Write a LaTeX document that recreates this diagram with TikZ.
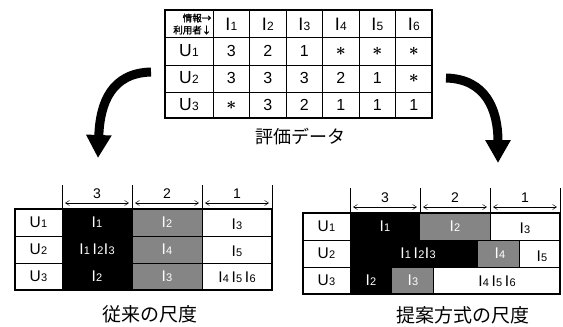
\documentclass[tikz,border=0pt]{standalone}
\usepackage{fontspec}
\setmainfont{Liberation Sans}
\newfontfamily\jp{Noto Sans CJK JP}
\newfontfamily\jpb[FakeBold=1.5]{Noto Sans CJK JP}
\usetikzlibrary{arrows.meta}
\newcommand\Lb[3]{#1\kern0.3pt{\fontsize{#3}{#3}\selectfont #2}}
\newcommand\Ib[1]{\Lb{I}{#1}{11}}
\newcommand\st{{\fontsize{18}{18}\selectfont\boldmath$\ast$}}
\begin{document}
\begin{tikzpicture}[x=1pt,y=-1pt,
  tline/.style={line width=0.8pt},
  tout/.style={line width=1.1pt},
  txt/.style={inner sep=0pt,anchor=center},
  bignum/.style={txt,font=\fontsize{16}{16}\selectfont},
  ulab/.style={txt,font=\fontsize{15.5}{15.5}\selectfont},
  ilab/.style={txt,font=\fontsize{15.5}{15.5}\selectfont},
  wlab/.style={ilab,text=white},
  collab/.style={txt,font=\fontsize{14}{14}\selectfont},
  darr/.style={line width=0.5pt,{Straight Barb[length=4pt,width=5pt]}-{Straight Barb[length=4pt,width=5pt]}},
  shade/.style={fill=black!48},
  bigarrow/.style={line width=9pt,-{Triangle[width=24pt,length=23pt]}},
  captxt/.style={txt,font=\jp\fontsize{19}{19}\selectfont}
]
\useasboundingbox (0,0) rectangle (563,327);

% ---------- top table ----------
\foreach \x in {213,249.5,286,322.5,359,395.5} \draw[tline] (\x,10) -- (\x,118);
\foreach \y in {37,65,92} \draw[tline] (165,\y) -- (432,\y);
\draw[tout] (165,10) rectangle (432,118);
\node[txt,anchor=east,font=\jpb\fontsize{9.5}{9.5}\selectfont] (hd1) at (211.5,18) {情報→};
\node[txt,anchor=east,font=\jpb\fontsize{9.5}{9.5}\selectfont] (hd2) at (211.5,30) {利用者↓};
\foreach \c in {1,...,6}
  \node[txt,font=\fontsize{18}{18}\selectfont] (ti\c) at (213+36.5*\c-18.25,24) {\Lb{I}{\c}{12}};
\foreach \r in {1,2,3}
  \node[txt,font=\fontsize{17.5}{17.5}\selectfont] (tu\r) at (189,51+27*\r-27) {\Lb{U}{\r}{12}};
\foreach \r/\c/\v in {1/1/3,1/2/2,1/3/1,1/4/\st,1/5/\st,1/6/\st,
                      2/1/3,2/2/3,2/3/3,2/4/2,2/5/1,2/6/\st,
                      3/1/\st,3/2/3,3/3/2,3/4/1,3/5/1,3/6/1}
  \node[bignum] (t\r\c) at (213+36.5*\c-18.25,51+27*\r-27) {\v};
\node[captxt,font=\jp\fontsize{18}{18}\selectfont] (capT) at (300,137) {評価データ};

% ---------- arrows ----------
\coordinate (la1) at (151,72);
\coordinate (la2) at (98,158);
\coordinate (ra1) at (446,78);
\coordinate (ra2) at (498,163);
\draw[bigarrow] (la1) .. controls (112,73) and (100,102) .. (la2);
\draw[bigarrow] (ra1) .. controls (486,79) and (498,110) .. (ra2);

% ---------- bottom left: conventional ----------
\fill (62,209) rectangle (132,290);
\fill[shade] (132,209) rectangle (202,290);
\foreach \x in {62,132,202,272} \draw[tline] (\x,185) -- (\x,209);
\node[collab] (l3) at (97,194) {3};
\node[collab] (l2) at (167,194) {2};
\node[collab] (l1) at (237,194) {1};
\draw[darr] (65,203) -- (129,203);
\draw[darr] (135,203) -- (199,203);
\draw[darr] (205,203) -- (269,203);
\foreach \y in {209,236,263} {
  \draw[tline] (15,\y) rectangle (62,\y+27);
  \draw[tline] (202,\y) rectangle (272,\y+27);
  \draw[tline] (132,\y) rectangle (202,\y+27);
}
\draw[tout] (15,209) rectangle (272,290);
\foreach \r in {1,2,3}
  \node[ulab] (lu\r) at (38.5,222.5+27*\r-27) {\Lb{U}{\r}{11}};
\node[wlab] (lb1) at (97,222.5) {\Ib{1}};
\node[wlab] (lb2) at (97,249.5) {\Ib{1}\,\Ib{2}\kern0.5pt\Ib{3}};
\node[wlab] (lb3) at (97,276.5) {\Ib{2}};
\node[wlab] (lg1) at (167,222.5) {\Ib{2}};
\node[wlab] (lg2) at (167,249.5) {\Ib{4}};
\node[wlab] (lg3) at (167,276.5) {\Ib{3}};
\node[ilab] (lw1) at (237,224) {\Ib{3}};
\node[ilab] (lw2) at (237,251) {\Ib{5}};
\node[ilab] (lw3) at (237,277) {\Ib{4}\,\Ib{5}\,\Ib{6}};
\node[captxt] (capL) at (150,314) {従来の尺度};

% ---------- bottom right: proposed ----------
\fill (350,213) rectangle (420,240);
\fill[shade] (420,213) rectangle (490,240);
\fill (350,240) rectangle (478,267);
\fill[shade] (478,240) rectangle (519,267);
\fill (350,267) rectangle (392,294);
\fill[shade] (392,267) rectangle (433,294);
\foreach \x in {350,420,490,560} \draw[tline] (\x,188) -- (\x,213);
\node[collab] (r3) at (385,198) {3};
\node[collab] (r2) at (455,198) {2};
\node[collab] (r1) at (525,198) {1};
\draw[darr] (353,207) -- (417,207);
\draw[darr] (423,207) -- (487,207);
\draw[darr] (493,207) -- (557,207);
\foreach \y in {213,240,267} \draw[tline] (303,\y) rectangle (350,\y+27);
\draw[tline] (490,213) rectangle (560,240);
\draw[tline] (519,240) rectangle (560,267);
\draw[tline] (433,267) rectangle (560,294);
\draw[tline] (350,240) -- (560,240);
\draw[tline] (350,267) -- (560,267);
\draw[tout] (303,213) rectangle (560,294);
\foreach \r in {1,2,3}
  \node[ulab] (ru\r) at (326.5,226.5+27*\r-27) {\Lb{U}{\r}{11}};
\node[wlab] (rb1) at (385,226.5) {\Ib{1}};
\node[wlab] (rb2) at (418,253.5) {\Ib{1}\,\Ib{2}\kern0.5pt\Ib{3}};
\node[wlab] (rb3) at (371,280.5) {\Ib{2}};
\node[wlab] (rg1) at (455,226.5) {\Ib{2}};
\node[wlab] (rg2) at (500,253.5) {\Ib{4}};
\node[wlab] (rg3) at (413,280.5) {\Ib{3}};
\node[ilab] (rw1) at (525,228) {\Ib{3}};
\node[ilab] (rw2) at (542,256) {\Ib{5}};
\node[ilab] (rw3) at (497,281) {\Ib{4}\,\Ib{5}\,\Ib{6}};
\node[captxt] (capR) at (463,315) {提案方式の尺度};
\end{tikzpicture}
\end{document}
